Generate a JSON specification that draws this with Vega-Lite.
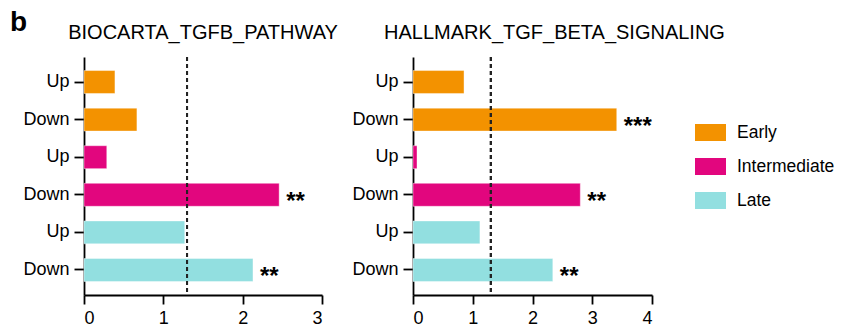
{
  "$schema": "https://vega.github.io/schema/vega-lite/v6.json",
  "padding": {"left": 9, "top": 9, "right": 5, "bottom": 2},
  "background": "white",
  "title": {"text": "b", "anchor": "start", "frame": "bounds", "fontSize": 28, "fontWeight": "bold", "font": "Liberation Sans", "color": "black", "offset": -14, "dx": -13},
  "config": {
    "font": "Liberation Sans",
    "view": {"stroke": null},
    "axis": {"domainColor": "black", "domainWidth": 1.8, "tickColor": "black", "tickWidth": 1.8, "labelFontSize": 18, "labelColor": "black", "labelFont": "Liberation Sans", "grid": false, "title": null},
    "title": {"font": "Liberation Sans", "fontSize": 20, "fontWeight": "normal", "color": "black", "offset": 13}
  },
  "datasets": {
    "biocarta": [
      {"key": "Early Up", "stage": "Early", "value": 0.39, "sig": ""},
      {"key": "Early Down", "stage": "Early", "value": 0.667, "sig": ""},
      {"key": "Intermediate Up", "stage": "Intermediate", "value": 0.287, "sig": ""},
      {"key": "Intermediate Down", "stage": "Intermediate", "value": 2.46, "sig": "**"},
      {"key": "Late Up", "stage": "Late", "value": 1.27, "sig": ""},
      {"key": "Late Down", "stage": "Late", "value": 2.13, "sig": "**"}
    ],
    "hallmark": [
      {"key": "Early Up", "stage": "Early", "value": 0.854, "sig": ""},
      {"key": "Early Down", "stage": "Early", "value": 3.41, "sig": "***"},
      {"key": "Intermediate Up", "stage": "Intermediate", "value": 0.067, "sig": ""},
      {"key": "Intermediate Down", "stage": "Intermediate", "value": 2.80, "sig": "**"},
      {"key": "Late Up", "stage": "Late", "value": 1.12, "sig": ""},
      {"key": "Late Down", "stage": "Late", "value": 2.34, "sig": "**"}
    ]
  },
  "bounds": "flush",
  "spacing": 91,
  "hconcat": [
    {
      "width": 238,
      "height": 238,
      "title": {"text": "BIOCARTA_TGFB_PATHWAY"},
      "data": {"name": "biocarta"},
      "layer": [
        {
          "mark": {"type": "bar", "stroke": "white", "strokeOpacity": 0.4, "strokeWidth": 1},
          "encoding": {
            "y": {"field": "key", "type": "nominal", "sort": null, "scale": {"paddingInner": 0.39, "paddingOuter": 0.36}, "axis": {"labelExpr": "split(datum.label, ' ')[1]", "tickSize": 10, "labelPadding": 5}},
            "x": {"field": "value", "type": "quantitative", "scale": {"domain": [0, 3], "nice": false}, "axis": {"values": [0, 1, 2, 3], "format": "d", "tickSize": 9, "labelPadding": 5}},
            "color": {"field": "stage", "type": "nominal", "scale": {"domain": ["Early", "Intermediate", "Late"], "range": ["#F39200", "#E2067E", "#92DFE0"]},
              "legend": {"orient": "none", "legendX": 611, "legendY": 60, "title": null, "symbolType": "M-1,-0.55H1V0.55H-1Z", "symbolSize": 961, "symbolStrokeWidth": 0, "symbolOpacity": 1, "labelFontSize": 17.5, "labelColor": "black", "labelOffset": 11, "rowPadding": 9}}
          }
        },
        {
          "mark": {"type": "text", "align": "left", "baseline": "middle", "dx": 7, "dy": 7, "fontSize": 24, "fontWeight": "bold", "color": "black"},
          "encoding": {
            "y": {"field": "key", "type": "nominal", "sort": null},
            "x": {"field": "value", "type": "quantitative"},
            "text": {"field": "sig"}
          }
        },
        {
          "mark": {"type": "rule", "strokeDash": [4, 3], "strokeWidth": 1.6, "color": "#222"},
          "encoding": {"x": {"datum": 1.301}}
        }
      ]
    },
    {
      "width": 239,
      "height": 238,
      "title": {"text": "HALLMARK_TGF_BETA_SIGNALING", "dx": 22},
      "data": {"name": "hallmark"},
      "layer": [
        {
          "mark": {"type": "bar", "stroke": "white", "strokeOpacity": 0.4, "strokeWidth": 1},
          "encoding": {
            "y": {"field": "key", "type": "nominal", "sort": null, "scale": {"paddingInner": 0.39, "paddingOuter": 0.36}, "axis": {"labelExpr": "split(datum.label, ' ')[1]", "tickSize": 10, "labelPadding": 5}},
            "x": {"field": "value", "type": "quantitative", "scale": {"domain": [0, 4], "nice": false}, "axis": {"values": [0, 1, 2, 3, 4], "format": "d", "tickSize": 9, "labelPadding": 5}},
            "color": {"field": "stage", "type": "nominal", "scale": {"domain": ["Early", "Intermediate", "Late"], "range": ["#F39200", "#E2067E", "#92DFE0"]}}
          }
        },
        {
          "mark": {"type": "text", "align": "left", "baseline": "middle", "dx": 7, "dy": 7, "fontSize": 24, "fontWeight": "bold", "color": "black"},
          "encoding": {
            "y": {"field": "key", "type": "nominal", "sort": null},
            "x": {"field": "value", "type": "quantitative"},
            "text": {"field": "sig"}
          }
        },
        {
          "mark": {"type": "rule", "strokeDash": [4, 3], "strokeWidth": 1.6, "color": "#222"},
          "encoding": {"x": {"datum": 1.301}}
        }
      ]
    }
  ],
  "resolve": {"scale": {"x": "independent", "y": "independent"}}
}
